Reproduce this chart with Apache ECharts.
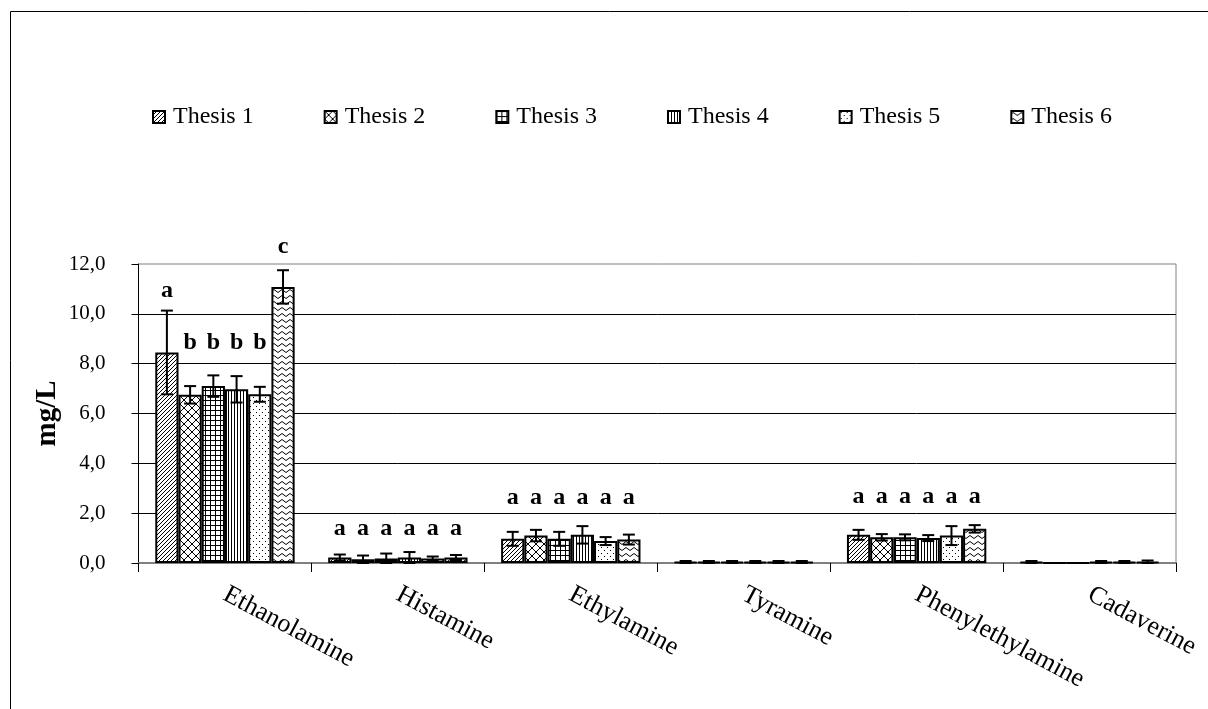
<!DOCTYPE html>
<html>
<head>
<meta charset="utf-8">
<script src="https://cdn.jsdelivr.net/npm/echarts@6/dist/echarts.min.js"></script>
<style>
  html, body { margin: 0; padding: 0; background: #fff; }
  #chart { width: 1208px; height: 709px; }
</style>
</head>
<body>
<div id="chart"></div>
<script>
// Biogenic amines (mg/L) per thesis, with standard deviations and significance letters
const categories = ['Ethanolamine', 'Histamine', 'Ethylamine', 'Tyramine', 'Phenylethylamine', 'Cadaverine'];
const thesisNames = ['Thesis 1', 'Thesis 2', 'Thesis 3', 'Thesis 4', 'Thesis 5', 'Thesis 6'];
const yTicks = [0, 2, 4, 6, 8, 10, 12];

const thesis1 = [8.45, 0.22, 0.97, 0.04, 1.13, 0.04];
const thesis2 = [6.75, 0.15, 1.10, 0.04, 1.03, 0.00];
const thesis3 = [7.10, 0.18, 0.97, 0.04, 1.03, 0.00];
const thesis4 = [6.97, 0.22, 1.13, 0.04, 1.00, 0.04];
const thesis5 = [6.77, 0.18, 0.88, 0.04, 1.10, 0.04];
const thesis6 = [11.08, 0.22, 0.94, 0.04, 1.37, 0.05];

const sd1 = [1.68, 0.12, 0.28, 0.04, 0.20, 0.04];
const sd2 = [0.35, 0.15, 0.23, 0.04, 0.13, 0.00];
const sd3 = [0.43, 0.20, 0.28, 0.04, 0.12, 0.00];
const sd4 = [0.53, 0.22, 0.35, 0.04, 0.12, 0.04];
const sd5 = [0.30, 0.08, 0.16, 0.04, 0.38, 0.04];
const sd6 = [0.67, 0.10, 0.20, 0.04, 0.15, 0.05];

// significance letters per amine (one per thesis) and the mg/L level they are written at
const letters = [
  ['a', 'b', 'b', 'b', 'b', 'c'],
  ['a', 'a', 'a', 'a', 'a', 'a'],
  ['a', 'a', 'a', 'a', 'a', 'a'],
  ['', '', '', '', '', ''],
  ['a', 'a', 'a', 'a', 'a', 'a'],
  ['', '', '', '', '', '']
];
const letterLevels = [
  [10.92, 8.82, 8.82, 8.82, 8.82, 12.7],
  [1.39, 1.39, 1.39, 1.39, 1.39, 1.39],
  [2.6, 2.6, 2.6, 2.6, 2.6, 2.6],
  [0, 0, 0, 0, 0, 0],
  [2.64, 2.64, 2.64, 2.64, 2.64, 2.64],
  [0, 0, 0, 0, 0, 0]
];

const values = [thesis1, thesis2, thesis3, thesis4, thesis5, thesis6];
const sds = [sd1, sd2, sd3, sd4, sd5, sd6];

const FONT = "'Liberation Serif', 'Times New Roman', serif";
const CATEGORY_GAP = 0.194;

// ---- monochrome fill patterns ----
function tile(w, h, draw) {
  const c = document.createElement('canvas');
  c.width = w; c.height = h;
  const g = c.getContext('2d');
  g.fillStyle = '#fff';
  g.fillRect(0, 0, w, h);
  g.strokeStyle = '#000';
  g.fillStyle = '#000';
  g.lineWidth = 1;
  draw(g);
  return { image: c, repeat: 'repeat' };
}
const patterns = [
  // forward diagonal hatch
  tile(4, 4, g => {
    g.beginPath();
    g.moveTo(-1, 5); g.lineTo(5, -1);
    g.moveTo(-1, 1); g.lineTo(1, -1);
    g.moveTo(3, 5); g.lineTo(5, 3);
    g.stroke();
  }),
  // diamond lattice
  tile(8, 8, g => {
    g.beginPath();
    g.moveTo(0, 0); g.lineTo(8, 8);
    g.moveTo(8, 0); g.lineTo(0, 8);
    g.stroke();
  }),
  // square grid
  tile(5, 5, g => {
    g.fillRect(0, 0, 5, 1);
    g.fillRect(0, 0, 1, 5);
  }),
  // vertical lines
  tile(3, 3, g => {
    g.fillRect(0, 0, 1, 3);
  }),
  // sparse dots
  tile(6, 6, g => {
    g.fillRect(1, 1, 1, 1);
    g.fillRect(4, 4, 1, 1);
  }),
  // waves
  tile(8, 6, g => {
    g.beginPath();
    g.moveTo(0, 3);
    g.quadraticCurveTo(2, 0, 4, 3);
    g.quadraticCurveTo(6, 6, 8, 3);
    g.stroke();
  })
];

// rows for the error-bar / letter layer
const errRows = [];
categories.forEach((c, ci) => {
  for (let t = 0; t < 6; t++) {
    errRows.push([ci, t, values[t][ci], sds[t][ci], letterLevels[ci][t]]);
  }
});

const barSeries = thesisNames.map((name, i) => ({
  name: name,
  type: 'bar',
  data: values[i],
  barGap: '0%',
  barCategoryGap: (CATEGORY_GAP * 100) + '%',
  itemStyle: { color: patterns[i], borderColor: '#000', borderWidth: 2 },
  emphasis: { disabled: true },
  z: 2
}));

const errorSeries = {
  name: 'sd',
  type: 'custom',
  data: errRows,
  encode: { x: 0, y: 2 },
  z: 5,
  silent: true,
  renderItem: function (params, api) {
    const ci = api.value(0);
    const t = api.value(1);
    const v = api.value(2);
    const sd = api.value(3);
    const lvl = api.value(4);
    const band = api.size([1, 0])[0];
    const groupW = band * (1 - CATEGORY_GAP);
    const bw = groupW / 6;
    const cx = api.coord([ci, 0])[0] - groupW / 2 + bw * (t + 0.5);
    const yTop = api.coord([ci, v + sd])[1];
    const yBot = api.coord([ci, Math.max(v - sd, 0)])[1];
    const st = { stroke: '#000', lineWidth: 2 };
    const children = [];
    if (sd > 0) {
      children.push(
        { type: 'line', shape: { x1: cx, y1: yTop, x2: cx, y2: yBot }, style: st },
        { type: 'line', shape: { x1: cx - 6, y1: yTop, x2: cx + 6, y2: yTop }, style: st },
        { type: 'line', shape: { x1: cx - 6, y1: yBot, x2: cx + 6, y2: yBot }, style: st }
      );
    }
    const letter = letters[ci][t];
    if (letter) {
      const ly = api.coord([ci, lvl])[1];
      children.push({
        type: 'text',
        style: {
          x: cx, y: ly, text: letter,
          fill: '#000', font: 'bold 24px ' + FONT,
          align: 'center', verticalAlign: 'middle'
        }
      });
    }
    return { type: 'group', children: children };
  }
};

const chart = echarts.init(document.getElementById('chart'), null, { renderer: 'canvas' });
chart.setOption({
  animation: false,
  backgroundColor: '#fff',
  graphic: [{
    type: 'rect',
    shape: { x: 10.5, y: 11.5, width: 1400, height: 900 },
    style: { fill: 'none', stroke: '#000', lineWidth: 1 },
    silent: true
  }],
  legend: {
    data: thesisNames,
    top: 100,
    left: 147,
    icon: 'rect',
    itemWidth: 12,
    itemHeight: 12,
    itemGap: 70,
    itemStyle: { borderColor: '#000', borderWidth: 2 },
    textStyle: { fontFamily: FONT, fontSize: 24, color: '#000', padding: [0, 0, 0, 3] },
    selectedMode: false
  },
  grid: {
    left: 138.5, right: 32, top: 264, bottom: 146,
    show: true, borderColor: '#808080', borderWidth: 1, backgroundColor: 'transparent'
  },
  xAxis: {
    type: 'category',
    data: categories,
    axisLine: { lineStyle: { color: '#808080', width: 2 } },
    axisTick: { show: true, length: 9, lineStyle: { color: '#000', width: 1 } },
    axisLabel: {
      interval: 0, rotate: -28, margin: 30,
      fontFamily: FONT, fontSize: 26, color: '#000'
    }
  },
  yAxis: {
    type: 'value',
    min: 0, max: 12, interval: 2,
    name: 'mg/L',
    nameLocation: 'middle',
    nameGap: 76,
    nameMoveOverlap: false,
    nameTextStyle: { fontFamily: FONT, fontSize: 29, fontWeight: 'bold', color: '#000' },
    axisLine: { show: true, lineStyle: { color: '#000', width: 1 } },
    axisTick: { show: true, length: 7, lineStyle: { color: '#000', width: 1 } },
    axisLabel: {
      margin: 33, fontFamily: FONT, fontSize: 21, color: '#000',
      formatter: v => yTicks.indexOf(v) >= 0 ? v.toFixed(1).replace('.', ',') : ''
    },
    splitLine: { show: true, showMinLine: false, showMaxLine: false, lineStyle: { color: '#000', width: 1 } }
  },
  series: barSeries.concat([errorSeries])
});
</script>
</body>
</html>
